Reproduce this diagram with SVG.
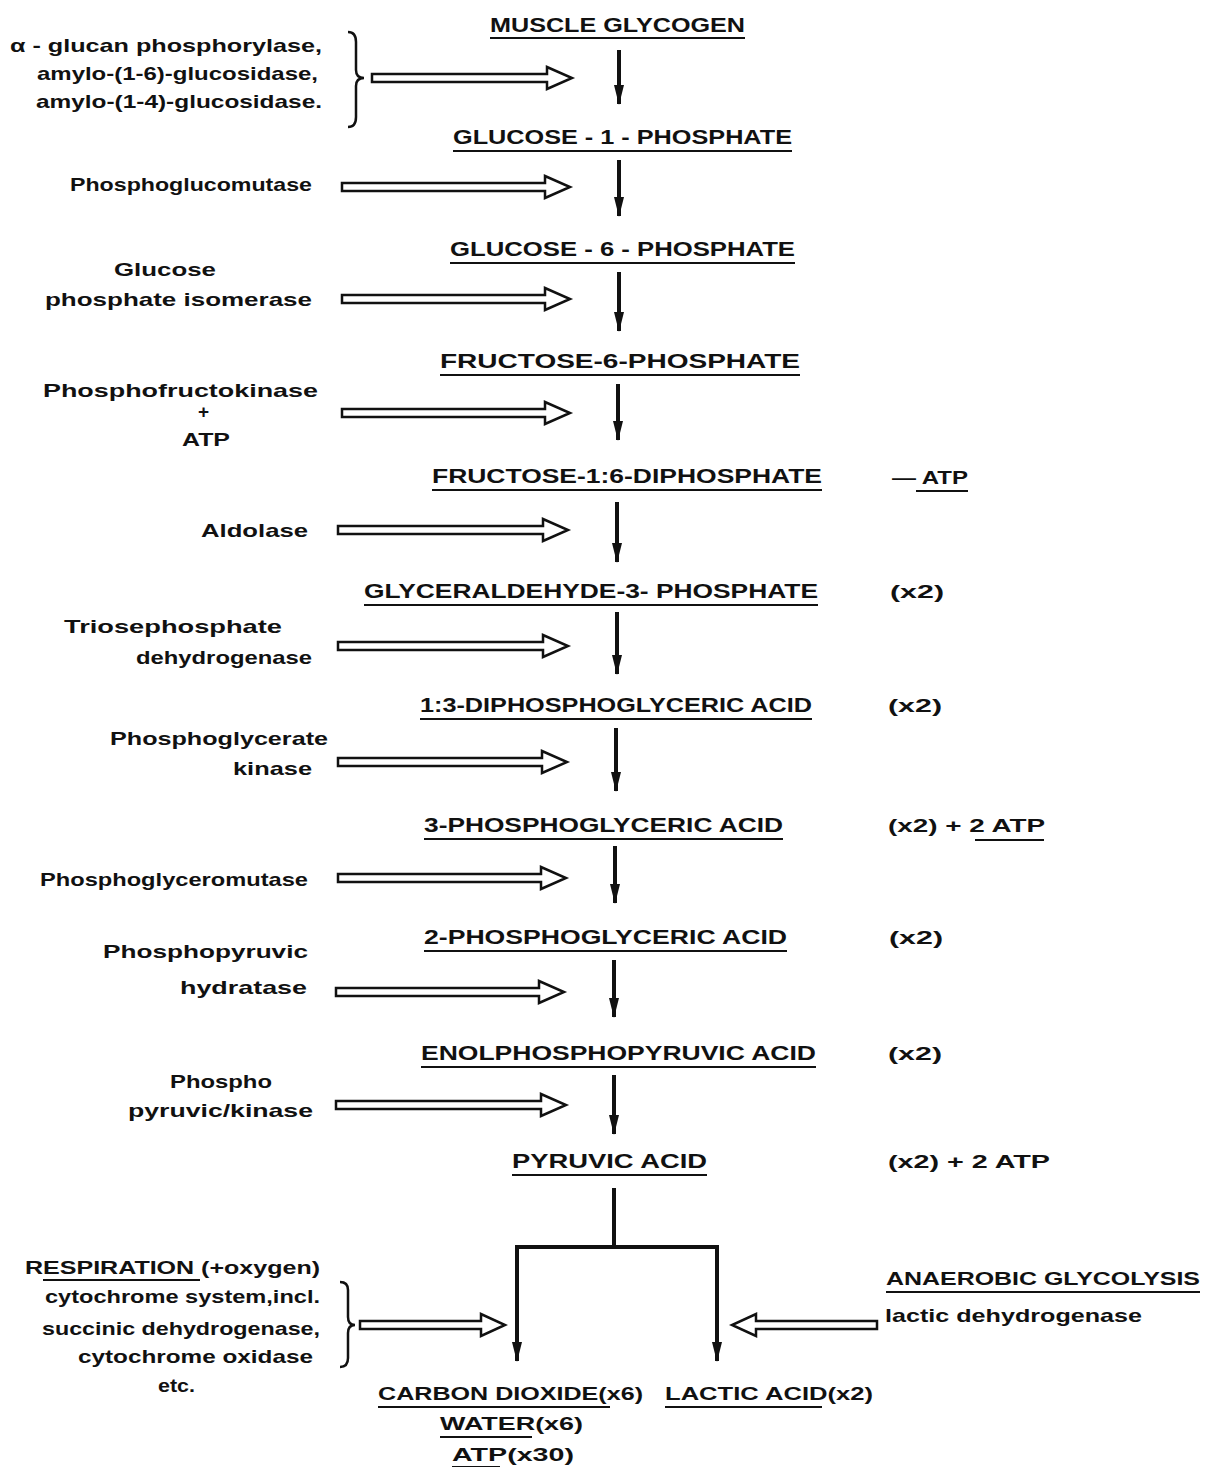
<svg xmlns="http://www.w3.org/2000/svg" width="1210" height="1467" viewBox="0 0 1210 1467">
<style>
text{font-family:"Liberation Sans","DejaVu Sans",sans-serif;font-weight:bold;fill:#111;}
.s{font-size:21px;}
.e{font-size:19px;}
.ul{stroke:#111;stroke-width:2;}
.v{stroke:#111;stroke-width:4;fill:none;}
.h{fill:#fff;stroke:#111;stroke-width:2.5;stroke-linejoin:miter;}
.br{fill:none;stroke:#111;stroke-width:2.5;}
</style>
<defs>
<marker id="ah" viewBox="0 0 20 10" refX="19" refY="5" markerWidth="20" markerHeight="10" markerUnits="userSpaceOnUse" orient="auto">
<path d="M0,0 L20,5 L0,10 Z" fill="#111"/>
</marker>
</defs>
<rect width="1210" height="1467" fill="#fff"/>

<g id="connectors">
<line class="v" x1="619" y1="50" x2="619" y2="104" marker-end="url(#ah)"/>
<line class="v" x1="619" y1="160" x2="619" y2="216" marker-end="url(#ah)"/>
<line class="v" x1="619" y1="272" x2="619" y2="331" marker-end="url(#ah)"/>
<line class="v" x1="618" y1="384" x2="618" y2="440" marker-end="url(#ah)"/>
<line class="v" x1="617" y1="502" x2="617" y2="562" marker-end="url(#ah)"/>
<line class="v" x1="617" y1="612" x2="617" y2="674" marker-end="url(#ah)"/>
<line class="v" x1="616" y1="728" x2="616" y2="791" marker-end="url(#ah)"/>
<line class="v" x1="615" y1="846" x2="615" y2="903" marker-end="url(#ah)"/>
<line class="v" x1="614" y1="960" x2="614" y2="1017" marker-end="url(#ah)"/>
<line class="v" x1="614" y1="1075" x2="614" y2="1134" marker-end="url(#ah)"/>
<path class="v" d="M614,1188 V1247 M515,1247 H719"/>
<line class="v" x1="517" y1="1245" x2="517" y2="1361" marker-end="url(#ah)"/>
<line class="v" x1="717" y1="1245" x2="717" y2="1361" marker-end="url(#ah)"/>

<path class="h" d="M372,74 H547 V67 L572,78 L547,89 V82 H372 Z"/>
<path class="h" d="M342,183 H545 V176 L570,187 L545,198 V191 H342 Z"/>
<path class="h" d="M342,295 H545 V288 L570,299 L545,310 V303 H342 Z"/>
<path class="h" d="M342,409 H545 V402 L570,413 L545,424 V417 H342 Z"/>
<path class="h" d="M338,526 H543 V519 L568,530 L543,541 V534 H338 Z"/>
<path class="h" d="M338,642 H543 V635 L568,646 L543,657 V650 H338 Z"/>
<path class="h" d="M338,758 H542 V751 L567,762 L542,773 V766 H338 Z"/>
<path class="h" d="M338,874 H541 V867 L566,878 L541,889 V882 H338 Z"/>
<path class="h" d="M336,988 H539 V981 L564,992 L539,1003 V996 H336 Z"/>
<path class="h" d="M336,1101 H541 V1094 L566,1105 L541,1116 V1109 H336 Z"/>
<path class="h" d="M360,1321 H481 V1314 L505,1325 L481,1336 V1329 H360 Z"/>
<path class="h" d="M877,1321 H756 V1314 L732,1325 L756,1336 V1329 H877 Z"/>

<path class="br" d="M348,32 Q356,32 356,42 V70 Q356,78 364,78 Q356,78 356,86 V117 Q356,127 348,127"/>
<path class="br" d="M340,1282 Q348,1282 348,1290 V1317 Q348,1325 355,1325 Q348,1325 348,1333 V1358 Q348,1367 340,1367"/>
</g>

<g id="muscle-glycogen"><text class="s" x="490" y="32" textLength="255" lengthAdjust="spacingAndGlyphs">MUSCLE GLYCOGEN</text><line class="ul" x1="490" y1="38" x2="745" y2="38"/></g>
<g id="glucose-1-phosphate"><text class="s" x="453" y="144" textLength="339" lengthAdjust="spacingAndGlyphs">GLUCOSE - 1 - PHOSPHATE</text><line class="ul" x1="453" y1="151" x2="792" y2="151"/></g>
<g id="glucose-6-phosphate"><text class="s" x="450" y="256" textLength="345" lengthAdjust="spacingAndGlyphs">GLUCOSE - 6 - PHOSPHATE</text><line class="ul" x1="450" y1="263" x2="795" y2="263"/></g>
<g id="fructose-6-phosphate"><text class="s" x="440" y="368" textLength="360" lengthAdjust="spacingAndGlyphs">FRUCTOSE-6-PHOSPHATE</text><line class="ul" x1="440" y1="375" x2="800" y2="375"/></g>
<g id="fructose-16-diphosphate"><text class="s" x="432" y="483" textLength="390" lengthAdjust="spacingAndGlyphs">FRUCTOSE-1:6-DIPHOSPHATE</text><line class="ul" x1="432" y1="490" x2="822" y2="490"/></g>
<g id="glyceraldehyde-3-phosphate"><text class="s" x="364" y="598" textLength="454" lengthAdjust="spacingAndGlyphs">GLYCERALDEHYDE-3- PHOSPHATE</text><line class="ul" x1="364" y1="605" x2="818" y2="605"/></g>
<g id="diphosphoglyceric-acid"><text class="s" x="420" y="712" textLength="392" lengthAdjust="spacingAndGlyphs">1:3-DIPHOSPHOGLYCERIC ACID</text><line class="ul" x1="420" y1="719" x2="812" y2="719"/></g>
<g id="3-phosphoglyceric-acid"><text class="s" x="424" y="832" textLength="359" lengthAdjust="spacingAndGlyphs">3-PHOSPHOGLYCERIC ACID</text><line class="ul" x1="424" y1="839" x2="783" y2="839"/></g>
<g id="2-phosphoglyceric-acid"><text class="s" x="424" y="944" textLength="363" lengthAdjust="spacingAndGlyphs">2-PHOSPHOGLYCERIC ACID</text><line class="ul" x1="424" y1="951" x2="787" y2="951"/></g>
<g id="enolphosphopyruvic-acid"><text class="s" x="421" y="1060" textLength="395" lengthAdjust="spacingAndGlyphs">ENOLPHOSPHOPYRUVIC ACID</text><line class="ul" x1="421" y1="1067" x2="816" y2="1067"/></g>
<g id="pyruvic-acid"><text class="s" x="512" y="1168" textLength="195" lengthAdjust="spacingAndGlyphs">PYRUVIC ACID</text><line class="ul" x1="512" y1="1175" x2="707" y2="1175"/></g>

<g id="enz-phosphorylase">
<text class="e" x="10" y="52" textLength="312" lengthAdjust="spacingAndGlyphs">α - glucan phosphorylase,</text>
<text class="e" x="37" y="80" textLength="281" lengthAdjust="spacingAndGlyphs">amylo-(1-6)-glucosidase,</text>
<text class="e" x="36" y="108" textLength="286" lengthAdjust="spacingAndGlyphs">amylo-(1-4)-glucosidase.</text>
</g>
<g id="enz-phosphoglucomutase"><text class="e" x="70" y="191" textLength="242" lengthAdjust="spacingAndGlyphs">Phosphoglucomutase</text></g>
<g id="enz-isomerase">
<text class="e" x="114" y="276" textLength="102" lengthAdjust="spacingAndGlyphs">Glucose</text>
<text class="e" x="45" y="306" textLength="267" lengthAdjust="spacingAndGlyphs">phosphate  isomerase</text>
</g>
<g id="enz-phosphofructokinase">
<text class="e" x="43" y="397" textLength="275" lengthAdjust="spacingAndGlyphs">Phosphofructokinase</text>
<text class="e" x="198" y="418">+</text>
<text class="e" x="182" y="446" textLength="48" lengthAdjust="spacingAndGlyphs">ATP</text>
</g>
<g id="enz-aldolase"><text class="e" x="201" y="537" textLength="107" lengthAdjust="spacingAndGlyphs">Aldolase</text></g>
<g id="enz-triosephosphate">
<text class="e" x="64" y="633" textLength="218" lengthAdjust="spacingAndGlyphs">Triosephosphate</text>
<text class="e" x="136" y="664" textLength="176" lengthAdjust="spacingAndGlyphs">dehydrogenase</text>
</g>
<g id="enz-phosphoglycerate-kinase">
<text class="e" x="110" y="745" textLength="218" lengthAdjust="spacingAndGlyphs">Phosphoglycerate</text>
<text class="e" x="233" y="775" textLength="79" lengthAdjust="spacingAndGlyphs">kinase</text>
</g>
<g id="enz-phosphoglyceromutase"><text class="e" x="40" y="886" textLength="268" lengthAdjust="spacingAndGlyphs">Phosphoglyceromutase</text></g>
<g id="enz-hydratase">
<text class="e" x="103" y="958" textLength="205" lengthAdjust="spacingAndGlyphs">Phosphopyruvic</text>
<text class="e" x="180" y="994" textLength="127" lengthAdjust="spacingAndGlyphs">hydratase</text>
</g>
<g id="enz-pyruvic-kinase">
<text class="e" x="170" y="1088" textLength="102" lengthAdjust="spacingAndGlyphs">Phospho</text>
<text class="e" x="128" y="1117" textLength="185" lengthAdjust="spacingAndGlyphs">pyruvic/kinase</text>
</g>

<g id="note-minus-atp"><text class="e" x="892" y="484" textLength="76" lengthAdjust="spacingAndGlyphs">— ATP</text><line class="ul" x1="916" y1="491" x2="968" y2="491"/></g>
<g id="note-x2-a"><text class="e" x="890" y="598" textLength="54" lengthAdjust="spacingAndGlyphs">(x2)</text></g>
<g id="note-x2-b"><text class="e" x="888" y="712" textLength="54" lengthAdjust="spacingAndGlyphs">(x2)</text></g>
<g id="note-x2-atp-a"><text class="e" x="888" y="832" textLength="157" lengthAdjust="spacingAndGlyphs">(x2) +  2 ATP</text><line class="ul" x1="975" y1="840" x2="1044" y2="840"/></g>
<g id="note-x2-c"><text class="e" x="889" y="944" textLength="54" lengthAdjust="spacingAndGlyphs">(x2)</text></g>
<g id="note-x2-d"><text class="e" x="888" y="1060" textLength="54" lengthAdjust="spacingAndGlyphs">(x2)</text></g>
<g id="note-x2-atp-b"><text class="e" x="888" y="1168" textLength="162" lengthAdjust="spacingAndGlyphs">(x2) + 2 ATP</text></g>

<g id="respiration">
<text class="e" x="25" y="1274" textLength="295" lengthAdjust="spacingAndGlyphs">RESPIRATION (+oxygen)</text>
<line class="ul" x1="43" y1="1280" x2="200" y2="1280"/>
<text class="e" x="45" y="1303" textLength="275" lengthAdjust="spacingAndGlyphs">cytochrome system,incl.</text>
<text class="e" x="42" y="1335" textLength="278" lengthAdjust="spacingAndGlyphs">succinic dehydrogenase,</text>
<text class="e" x="78" y="1363" textLength="235" lengthAdjust="spacingAndGlyphs">cytochrome oxidase</text>
<text class="e" x="158" y="1392" textLength="37" lengthAdjust="spacingAndGlyphs">etc.</text>
</g>
<g id="anaerobic">
<text class="e" x="886" y="1285" textLength="314" lengthAdjust="spacingAndGlyphs">ANAEROBIC GLYCOLYSIS</text>
<line class="ul" x1="886" y1="1292" x2="1200" y2="1292"/>
<text class="e" x="885" y="1322" textLength="257" lengthAdjust="spacingAndGlyphs">lactic  dehydrogenase</text>
</g>
<g id="aerobic-products">
<text class="e" x="378" y="1400" textLength="265" lengthAdjust="spacingAndGlyphs">CARBON DIOXIDE(x6)</text>
<line class="ul" x1="378" y1="1407" x2="610" y2="1407"/>
<text class="e" x="440" y="1430" textLength="143" lengthAdjust="spacingAndGlyphs">WATER(x6)</text>
<line class="ul" x1="440" y1="1437" x2="532" y2="1437"/>
<text class="e" x="452" y="1461" textLength="122" lengthAdjust="spacingAndGlyphs">ATP(x30)</text>
<line class="ul" x1="452" y1="1467" x2="500" y2="1467"/>
</g>
<g id="lactic-acid">
<text class="e" x="665" y="1400" textLength="208" lengthAdjust="spacingAndGlyphs">LACTIC ACID(x2)</text>
<line class="ul" x1="665" y1="1407" x2="822" y2="1407"/>
</g>
</svg>
